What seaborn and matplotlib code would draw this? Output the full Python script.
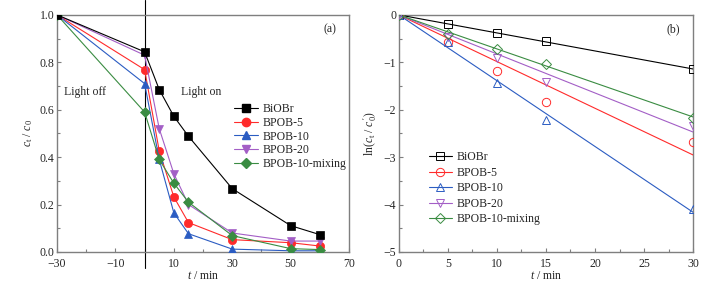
import numpy as np
import pandas as pd
import matplotlib
matplotlib.use('Agg')
import matplotlib.pyplot as plt
import seaborn as sns
from matplotlib.lines import Line2D
from matplotlib.ticker import MultipleLocator

# ---- data ----
samples = ['BiOBr', 'BPOB-5', 'BPOB-10', 'BPOB-20', 'BPOB-10-mixing']
colors = ['#000000', '#ff2b2b', '#2b5cc2', '#a35ec6', '#3a8c42']
markers = ['s', 'o', '^', 'v', 'D']

# (a) c_t / c_0 versus time
t_a = [-30, 0, 5, 10, 15, 30, 50, 60]
ratio_biobr = [1.0, 0.844, 0.685, 0.572, 0.488, 0.267, 0.111, 0.073]
ratio_bpob5 = [1.0, 0.769, 0.426, 0.232, 0.124, 0.052, 0.039, 0.025]
ratio_bpob10 = [1.0, 0.710, 0.390, 0.165, 0.077, 0.012, 0.005, 0.005]
ratio_bpob20 = [1.0, 0.830, 0.520, 0.330, 0.200, 0.080, 0.046, 0.046]
ratio_mixing = [1.0, 0.590, 0.390, 0.290, 0.210, 0.069, 0.014, 0.010]

# (b) ln(c_t / c_0') versus time
t_b = [0, 5, 10, 15, 30]
ln_biobr = [0, -0.20, -0.38, -0.55, -1.15]
ln_bpob5 = [0, -0.58, -1.19, -1.84, -2.69]
ln_bpob10 = [0, -0.57, -1.43, -2.22, -4.10]
ln_bpob20 = [0, -0.46, -0.90, -1.41, -2.35]
ln_mixing = [0, -0.41, -0.71, -1.03, -2.17]

ratios = [ratio_biobr, ratio_bpob5, ratio_bpob10, ratio_bpob20, ratio_mixing]
lns = [ln_biobr, ln_bpob5, ln_bpob10, ln_bpob20, ln_mixing]

FS = 8.5

sns.set_style('ticks')
plt.rcParams['font.family'] = ['Liberation Serif', 'DejaVu Serif']
plt.rcParams['mathtext.fontset'] = 'custom'
plt.rcParams['mathtext.rm'] = 'Liberation Serif'
plt.rcParams['mathtext.it'] = 'Liberation Serif:italic'
plt.rcParams['font.size'] = FS

spine_col = '#7f7f7f'


def style_axes(ax):
    for s in ax.spines.values():
        s.set_visible(True)
        s.set_color(spine_col)
        s.set_linewidth(1.0)
    ax.tick_params(which='both', direction='in', color=spine_col,
                   labelsize=FS, top=False, right=False)
    ax.tick_params(axis='x', pad=4)
    ax.tick_params(axis='y', pad=2)
    ax.tick_params(which='major', length=3, width=0.8)
    ax.tick_params(which='minor', length=2, width=0.8)


fig = plt.figure(figsize=(7.16, 2.86), dpi=100)
ax1 = fig.add_axes([0.0796, 0.119, 0.408, 0.829])
ax2 = fig.add_axes([0.557, 0.119, 0.411, 0.829])

# ---- panel (a) ----
order = [1, 2, 3, 4, 0]  # BiOBr on top
for i in order:
    df = pd.DataFrame({'t': t_a, 'c': ratios[i]})
    sns.lineplot(data=df, x='t', y='c', ax=ax1, color=colors[i],
                 marker=markers[i], markersize=6 if markers[i] != 'D' else 5,
                 mec=colors[i], mew=0.5, linewidth=0.8,
                 zorder=3 + (5 if i == 0 else i))

ax1.axvline(0, ymin=-0.068, ymax=1.063, color='black', linewidth=0.8,
            clip_on=False, zorder=2)
ax1.set_xlim(-30, 70)
ax1.set_ylim(0, 1.0)
ax1.set_xticks([-30, -10, 10, 30, 50, 70])
ax1.xaxis.set_minor_locator(MultipleLocator(10))
ax1.yaxis.set_major_locator(MultipleLocator(0.2))
ax1.yaxis.set_minor_locator(MultipleLocator(0.1))
ax1.yaxis.set_major_formatter(matplotlib.ticker.FormatStrFormatter('%.1f'))
ax1.set_xlabel(r'$t$ / min', labelpad=0)
ax1.set_ylabel(r'$c_{\rm t}$ / $c_0$', labelpad=3)
ax1.text(-20.5, 0.675, 'Light off', ha='center', va='center')
ax1.text(19.5, 0.675, 'Light on', ha='center', va='center')
ax1.text(63.5, 0.94, '(a)', ha='center', va='center')

handles_a = [Line2D([], [], color=c, marker=m, markersize=6 if m != 'D' else 5,
                    mec=c, linewidth=0.8) for c, m in zip(colors, markers)]
ax1.legend(handles_a, samples, loc='upper left', bbox_to_anchor=(0.59, 0.648),
           frameon=False, handlelength=2.0, handletextpad=0.4,
           labelspacing=0.15, borderaxespad=0, fontsize=FS)
style_axes(ax1)

# ---- panel (b) ----
t_fit = np.array([t_b[0], t_b[-1]])
for i in range(len(samples)):
    x = np.array(t_b, dtype=float)
    y = np.array(lns[i], dtype=float)
    k = np.sum(x * y) / np.sum(x * x)  # first-order fit through origin
    fit = pd.DataFrame({'t': t_fit, 'ln': k * t_fit})
    sns.lineplot(data=fit, x='t', y='ln', ax=ax2, color=colors[i],
                 linewidth=0.8, zorder=3)
    pts = pd.DataFrame({'t': t_b, 'ln': lns[i]})
    sns.lineplot(data=pts, x='t', y='ln', ax=ax2, color=colors[i],
                 linestyle='none', marker=markers[i],
                 markersize=6 if markers[i] != 'D' else 5,
                 mfc='none', mec=colors[i], mew=0.7, zorder=4)

ax2.set_xlim(0, 30)
ax2.set_ylim(-5, 0)
ax2.xaxis.set_major_locator(MultipleLocator(5))
ax2.xaxis.set_minor_locator(MultipleLocator(2.5))
ax2.yaxis.set_major_locator(MultipleLocator(1))
ax2.yaxis.set_minor_locator(MultipleLocator(0.5))
ax2.yaxis.set_major_formatter(matplotlib.ticker.FuncFormatter(
    lambda v, p: '%d' % v if v >= 0 else '\u2212%d' % abs(v)))
ax2.set_xlabel(r'$t$ / min', labelpad=0)
ax2.set_ylabel(r'ln($c_{\rm t}$ / $c_0^{\,\prime}$)', labelpad=3)
ax2.text(28.0, -0.3, '(b)', ha='center', va='center')

handles_b = [Line2D([], [], color=c, marker=m, markersize=6 if m != 'D' else 5,
                    mfc='none', mec=c, mew=0.7, linewidth=0.8)
             for c, m in zip(colors, markers)]
ax2.legend(handles_b, samples, loc='upper left', bbox_to_anchor=(0.085, 0.445),
           frameon=False, handlelength=2.0, handletextpad=0.4,
           labelspacing=0.3, borderaxespad=0, fontsize=FS)
style_axes(ax2)

fig.savefig('out.png', dpi=100)
